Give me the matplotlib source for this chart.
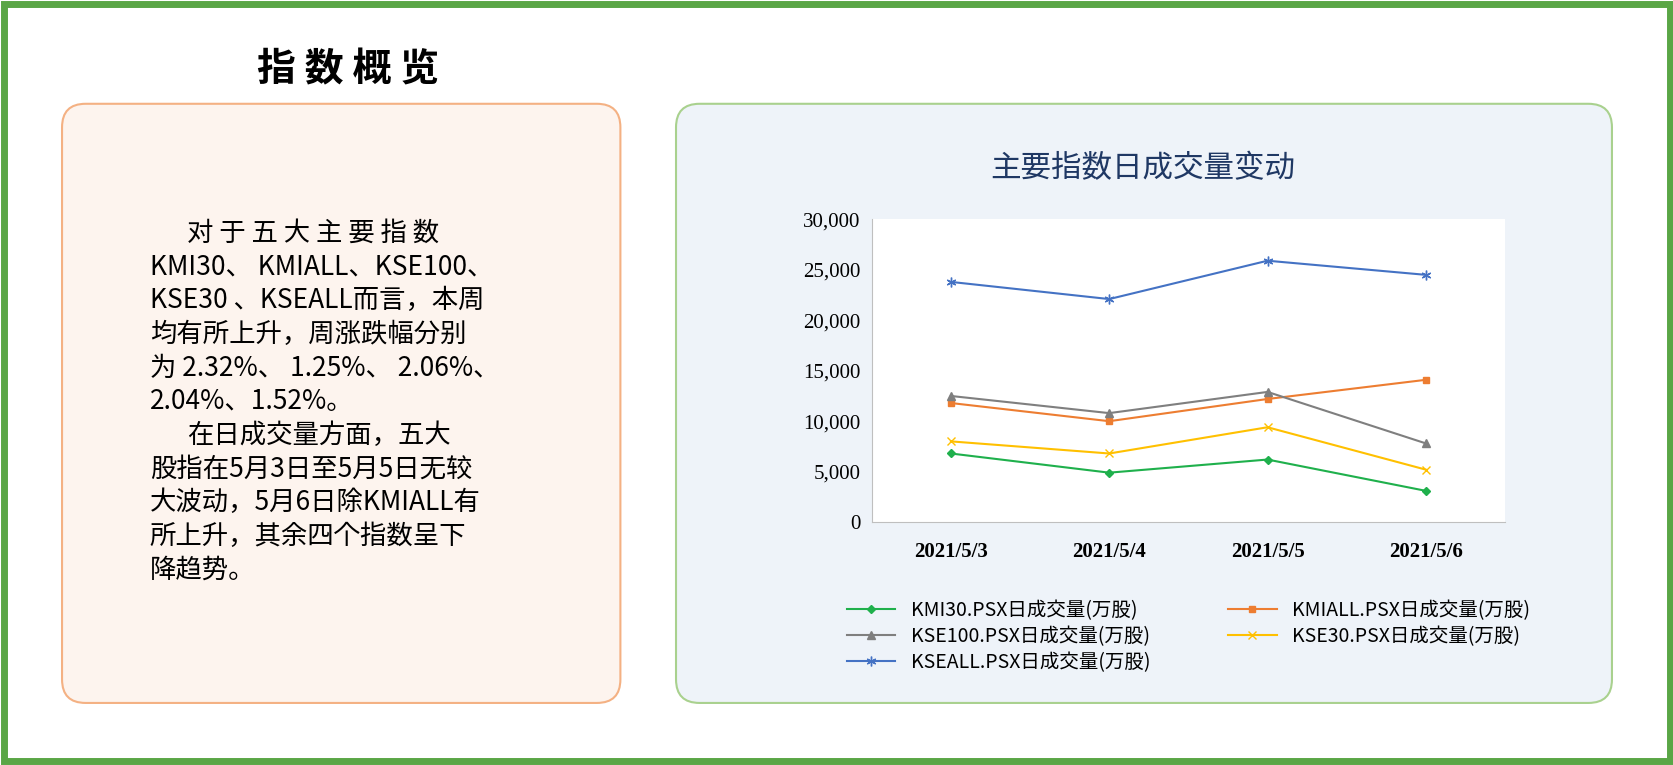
import matplotlib
matplotlib.use("Agg")
import matplotlib.pyplot as plt
from matplotlib import font_manager
from matplotlib.patches import FancyBboxPatch, Rectangle

dates = ["2021/5/3", "2021/5/4", "2021/5/5", "2021/5/6"]
kmi30 = [6800, 4900, 6200, 3100]
kmiall = [11800, 10000, 12200, 14100]
kse100 = [12500, 10800, 12900, 7800]
kse30 = [8000, 6800, 9400, 5200]
kseall = [23800, 22100, 25900, 24500]
series_names = ["KMI30.PSX日成交量(万股)", "KMIALL.PSX日成交量(万股)", "KSE100.PSX日成交量(万股)",
                "KSE30.PSX日成交量(万股)", "KSEALL.PSX日成交量(万股)"]
y_ticks = [0, 5000, 10000, 15000, 20000, 25000, 30000]

text_lines = ["对 于 五 大 主 要 指 数", "KMI30、 KMIALL、KSE100、", "KSE30 、KSEALL而言，本周",
              "均有所上升，周涨跌幅分别", "为 2.32%、 1.25%、 2.06%、", "2.04%、1.52%。",
              "在日成交量方面，五大", "股指在5月3日至5月5日无较", "大波动，5月6日除KMIALL有",
              "所上升，其余四个指数呈下", "降趋势。"]

# 找 CJK 字体文件并注册
cjk = "Noto Sans CJK SC"
for f in font_manager.findSystemFonts():
    if "CJK" in f or "cjk" in f.lower():
        try:
            font_manager.fontManager.addfont(f)
        except Exception:
            pass
names = {f.name for f in font_manager.fontManager.ttflist}
cands = [n for n in names if "CJK" in n]
if cjk not in names and cands:
    cjk = sorted(cands)[0]
fams = [cjk, "DejaVu Sans"]

W, H = 1565, 715
fig = plt.figure(figsize=(16.74, 7.65), dpi=100)
bg = fig.add_axes([0, 0, 1, 1])
bg.set_xlim(0, W); bg.set_ylim(H, 0); bg.axis("off")

bg.add_patch(Rectangle((4, 4), W - 8, H - 8, fill=False, ec="#5aa646", lw=5))
bg.add_patch(FancyBboxPatch((58, 97), 522, 560, boxstyle="round,pad=0,rounding_size=22",
                            fc="#fdf4ee", ec="#f4b183", lw=1.5))
bg.add_patch(FancyBboxPatch((632, 97), 875, 560, boxstyle="round,pad=0,rounding_size=22",
                            fc="#eef3f9", ec="#a9d18e", lw=1.5))
bg.text(325, 65, "指 数 概 览", fontsize=28, fontweight="bold", family=fams, ha="center", va="center")
bg.text(1068, 158, "主要指数日成交量变动", fontsize=22, family=fams, color="#1f3864", ha="center", va="center")

y0 = 218
for i, line in enumerate(text_lines):
    x = 175 if i in (0, 6) else 140
    bg.text(x, y0 + i * 31.5, line, fontsize=19, family=fams, ha="left", va="center")

ax = fig.add_axes([815 / W, 1 - 488 / H, 592 / W, 283 / H])
x = range(len(dates))
styles = [(kmi30, "#1fb04c", "D", 4), (kmiall, "#ed7d31", "s", 5), (kse100, "#7f7f7f", "^", 6),
          (kse30, "#ffc000", "x", 6), (kseall, "#4472c4", (6, 2, 0), 7)]
lines = []
for (vals, c, m, ms), name in zip(styles, series_names):
    lines += ax.plot(x, vals, color=c, marker=m, ms=ms, lw=1.5, label=name)
ax.set_xlim(-0.5, 3.5)
ax.set_ylim(0, 30000)
ax.set_yticks(y_ticks)
ax.set_yticklabels([f"{v:,}" for v in y_ticks], family="Liberation Serif", fontsize=15)
ax.set_xticks(list(x))
ax.set_xticklabels(dates, family="Liberation Serif", fontsize=15, fontweight="bold")
for s in ["top", "right"]:
    ax.spines[s].set_visible(False)
ax.spines["left"].set_color("#bfbfbf")
ax.spines["bottom"].set_color("#bfbfbf")
ax.tick_params(length=0, pad=8)
ax.tick_params(axis="x", pad=14)
order = [0, 2, 4, 1, 3]
ax.legend([lines[i] for i in order], [series_names[i] for i in order],
          loc="upper center", bbox_to_anchor=(0.5, -0.2), ncol=2, frameon=False,
          prop={"family": fams, "size": 14}, columnspacing=4, handlelength=2.5,
          labelspacing=0.25)

fig.savefig("out.png", dpi=100)
